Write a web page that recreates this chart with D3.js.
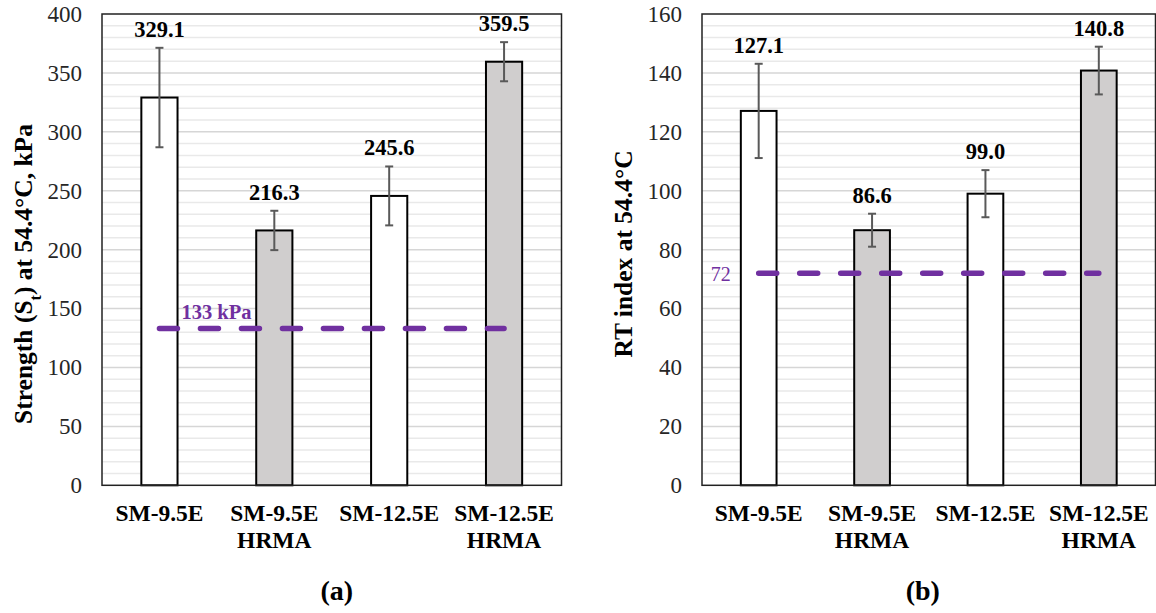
<!DOCTYPE html>
<html>
<head>
<meta charset="utf-8">
<script src="https://cdn.jsdelivr.net/npm/d3@7"></script>
<style>
  html, body { margin: 0; padding: 0; background: #fff; }
  svg { display: block; }
  text { font-family: "Liberation Serif", "Times New Roman", serif; }
</style>
</head>
<body>
<svg id="chart" width="1156" height="613"></svg>
<script>
// ---- Data ----
const categories = [["SM-9.5E"], ["SM-9.5E", "HRMA"], ["SM-12.5E"], ["SM-12.5E", "HRMA"]];
const isHRMA = [false, true, false, true];

const strengthValues = [329.1, 216.3, 245.6, 359.5];
const strengthErrors = [42.2, 16.7, 25.0, 16.6];
const strengthTicks = [0, 50, 100, 150, 200, 250, 300, 350, 400];
const strengthMinorStep = 10;
const strengthThreshold = 133;
const strengthThresholdLabel = "133 kPa";

const rtValues = [127.1, 86.6, 99.0, 140.8];
const rtErrors = [16.0, 5.6, 8.0, 8.1];
const rtTicks = [0, 20, 40, 60, 80, 100, 120, 140, 160];
const rtMinorStep = 4;
const rtThreshold = 72;
const rtThresholdLabel = "72";

const panelLetters = ["(a)", "(b)"];

// ---- Drawing ----
const svg = d3.select("#chart");
const PURPLE = "#7030a0";

function drawPanel(opt) {
  const { x0, x1, y0, y1, values, errors, ticks, minorStep, threshold, thresholdLabel, letter, title, isLeft } = opt;
  const g = svg.append("g");
  const x = d3.scaleBand().domain(d3.range(categories.length)).range([x0, x1])
    .paddingInner(0.685).paddingOuter(0.685 / 2);
  const maxV = ticks[ticks.length - 1];
  const y = d3.scaleLinear().domain([0, maxV]).range([y1, y0]);

  // minor gridlines
  const minor = d3.range(minorStep, maxV, minorStep).filter(v => !ticks.includes(v));
  g.selectAll(".minor").data(minor).join("line")
    .attr("x1", x0).attr("x2", x1)
    .attr("y1", d => y(d)).attr("y2", d => y(d))
    .attr("stroke", "#e9e9e9").attr("stroke-width", 1.5);
  // major gridlines
  g.selectAll(".major").data(ticks.slice(1, -1)).join("line")
    .attr("x1", x0).attr("x2", x1)
    .attr("y1", d => y(d)).attr("y2", d => y(d))
    .attr("stroke", "#d6d6d6").attr("stroke-width", 1.5);

  // y axis tick labels via d3 axis
  const ax = g.append("g").attr("transform", `translate(${x0},0)`)
    .call(d3.axisLeft(y).tickValues(ticks).tickSize(0).tickPadding(20).tickFormat(d3.format("d")));
  ax.select(".domain").remove();
  ax.attr("font-family", null).attr("font-size", null);
  ax.selectAll("text").attr("font-size", 23).attr("fill", "#262626")
    .style("font-family", "'Liberation Serif', serif");

  // bars
  g.selectAll(".bar").data(values).join("rect")
    .attr("x", (d, i) => x(i)).attr("width", x.bandwidth())
    .attr("y", d => y(d)).attr("height", d => y(0) - y(d))
    .attr("fill", (d, i) => isHRMA[i] ? "#d0cece" : "#ffffff")
    .attr("stroke", "#000").attr("stroke-width", 2);

  // error bars
  const eg = g.append("g").attr("stroke", "#595959").attr("stroke-width", 2);
  values.forEach((v, i) => {
    const cx = x(i) + x.bandwidth() / 2;
    const top = y(v + errors[i]), bot = y(v - errors[i]);
    eg.append("line").attr("x1", cx).attr("x2", cx).attr("y1", top).attr("y2", bot);
    eg.append("line").attr("x1", cx - 4).attr("x2", cx + 4).attr("y1", top).attr("y2", top);
    eg.append("line").attr("x1", cx - 4).attr("x2", cx + 4).attr("y1", bot).attr("y2", bot);
  });

  // value labels
  g.selectAll(".vlab").data(values).join("text")
    .attr("x", (d, i) => x(i) + x.bandwidth() / 2)
    .attr("y", (d, i) => y(d + errors[i]) - 11)
    .attr("text-anchor", "middle").attr("font-size", 22.5).attr("font-weight", "bold")
    .attr("fill", "#000")
    .text(d => d.toFixed(1));

  // threshold line
  const xa = x(0) + x.bandwidth() / 2, xb = x(categories.length - 1) + x.bandwidth() / 2;
  g.append("line").attr("x1", xa).attr("x2", xb)
    .attr("y1", y(threshold)).attr("y2", y(threshold))
    .attr("stroke", PURPLE).attr("stroke-width", 5.5)
    .attr("stroke-linecap", "round").attr("stroke-dasharray", "18 23");
  if (isLeft) {
    g.append("text").attr("x", xa + 22).attr("y", y(threshold) - 9.5)
      .attr("font-size", 20.5).attr("font-weight", "bold").attr("fill", PURPLE)
      .text(thresholdLabel);
  } else {
    g.append("text").attr("x", xa - 28).attr("y", y(threshold) + 8)
      .attr("text-anchor", "end").attr("font-size", 20).attr("fill", PURPLE)
      .text(thresholdLabel);
  }

  // plot border
  g.append("rect").attr("x", x0).attr("y", y0).attr("width", x1 - x0).attr("height", y1 - y0)
    .attr("fill", "none").attr("stroke", "#222").attr("stroke-width", 1.5);

  // category labels
  const cl = g.selectAll(".cat").data(categories).join("text")
    .attr("x", (d, i) => x(i) + x.bandwidth() / 2)
    .attr("y", y1 + 35.5)
    .attr("text-anchor", "middle").attr("font-size", 23.5).attr("font-weight", "bold").attr("fill", "#000");
  cl.each(function (d) {
    const t = d3.select(this);
    d.forEach((line, k) => {
      t.append("tspan").attr("x", t.attr("x")).attr("dy", k === 0 ? 0 : 27).text(line);
    });
  });

  // panel letter
  g.append("text").attr("x", (x0 + x1) / 2 + (isLeft ? 5 : -6)).attr("y", 600)
    .attr("text-anchor", "middle").attr("font-size", 28).attr("font-weight", "bold")
    .text(letter);

  // axis title
  const tt = g.append("text")
    .attr("transform", `translate(${opt.titleX},${opt.titleY}) rotate(-90)`)
    .attr("text-anchor", "middle").attr("font-size", 25.5).attr("font-weight", "bold").attr("fill", "#000");
  title(tt);
}

drawPanel({
  x0: 102, x1: 561.5, y0: 14, y1: 485.3,
  values: strengthValues, errors: strengthErrors, ticks: strengthTicks, minorStep: strengthMinorStep,
  threshold: strengthThreshold, thresholdLabel: strengthThresholdLabel, letter: panelLetters[0], isLeft: true,
  titleX: 32, titleY: 274,
  title: t => {
    t.append("tspan").text("Strength (S");
    t.append("tspan").attr("font-size", 16).attr("baseline-shift", "sub").text("t");
    t.append("tspan").text(") at 54.4°C, kPa");
  }
});

drawPanel({
  x0: 702, x1: 1155.5, y0: 14, y1: 485.3,
  values: rtValues, errors: rtErrors, ticks: rtTicks, minorStep: rtMinorStep,
  threshold: rtThreshold, thresholdLabel: rtThresholdLabel, letter: panelLetters[1], isLeft: false,
  titleX: 632, titleY: 254,
  title: t => { t.text("RT index at 54.4°C"); }
});
</script>
</body>
</html>
